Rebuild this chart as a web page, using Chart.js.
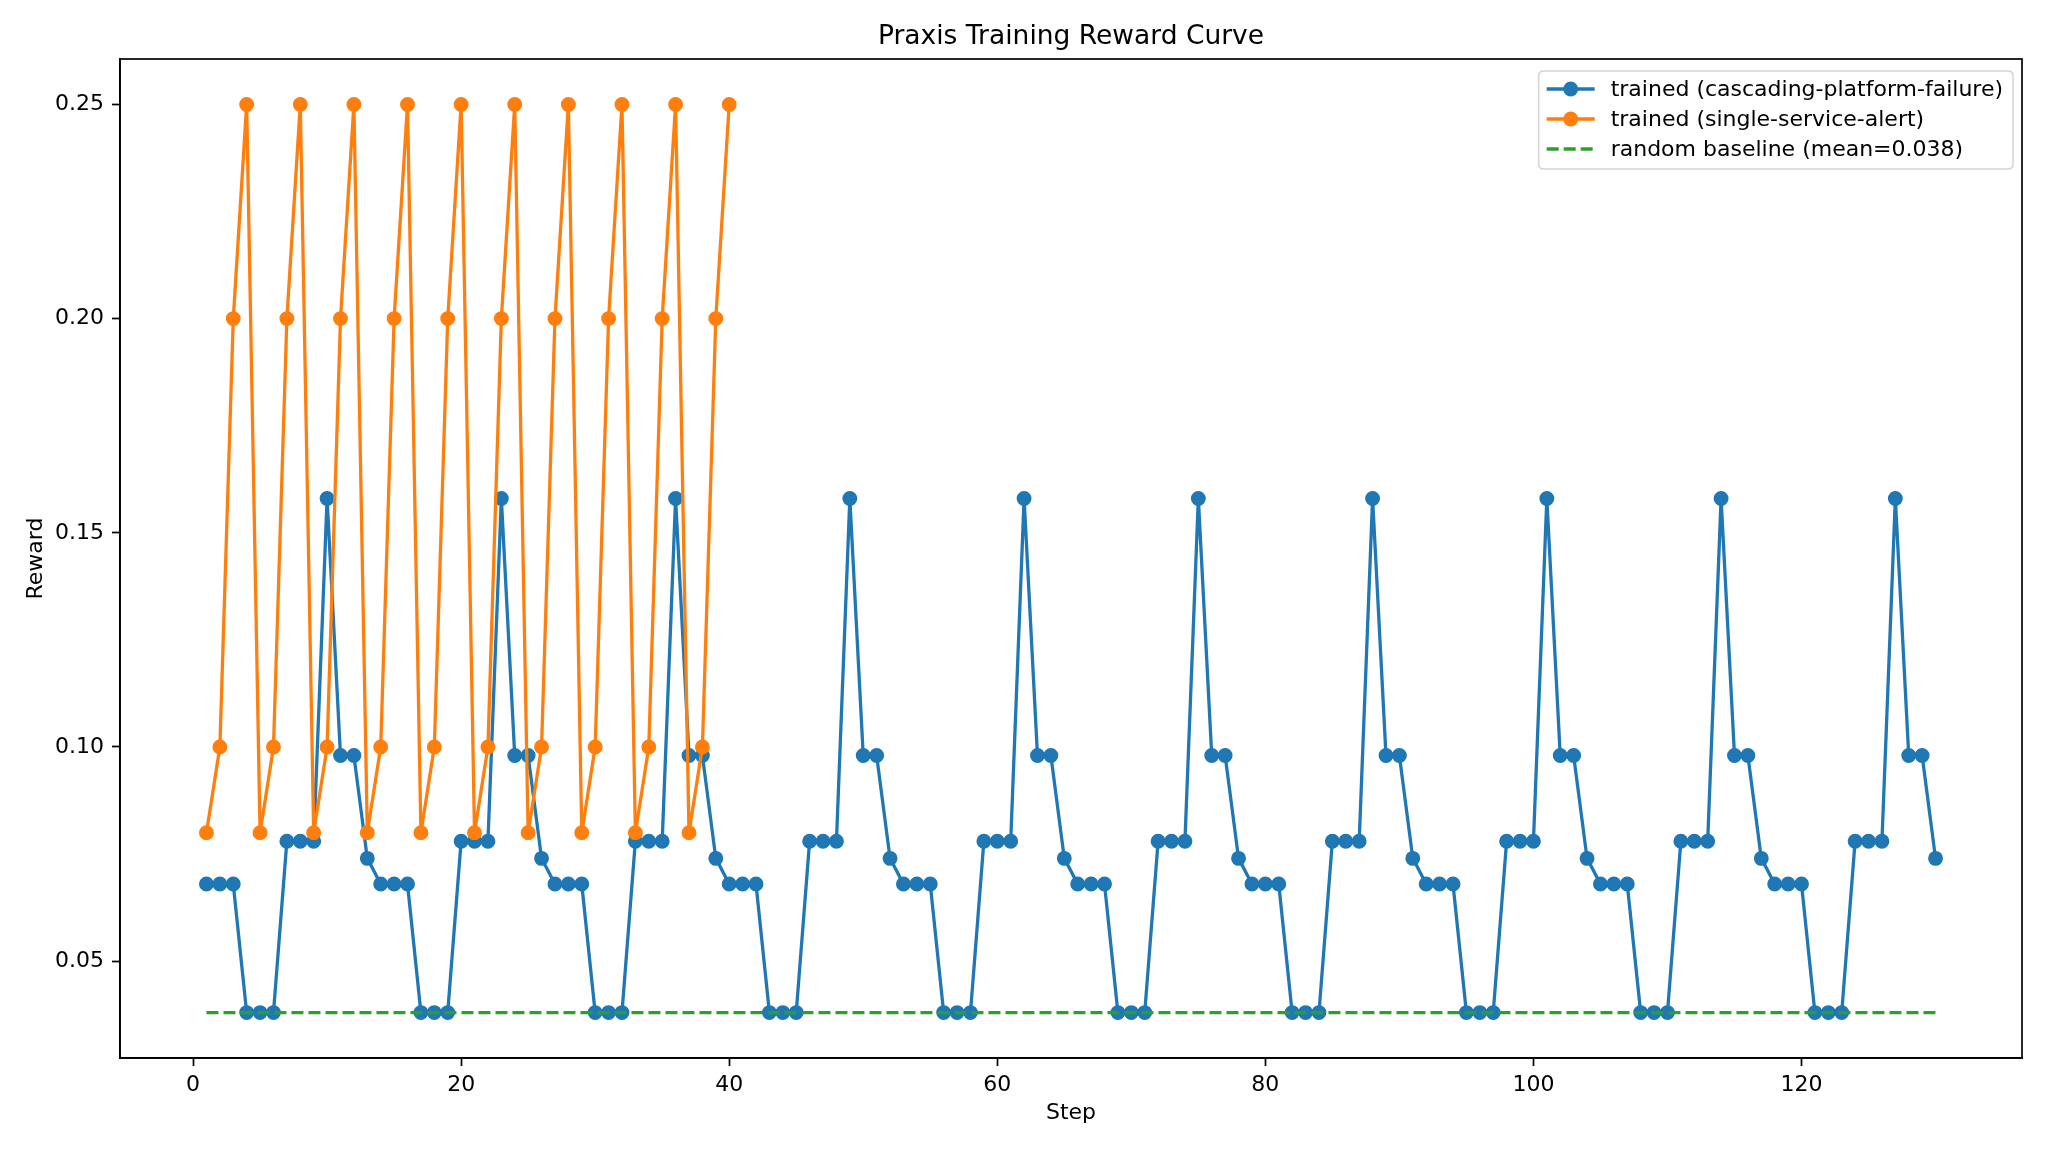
<!DOCTYPE html>
<html>
<head>
<meta charset="utf-8">
<script src="https://cdn.jsdelivr.net/npm/chart.js@4.4.1/dist/chart.umd.min.js"></script>
<style>
  html, body { margin: 0; padding: 0; background: #fff; }
  canvas { display: block; }
</style>
</head>
<body>
<canvas id="c" width="2048" height="1152"></canvas>
<script>
// ---- data ----
const steps = [
  1,2,3,4,5,6,7,8,9,10,11,12,13,14,15,16,17,18,19,20,
  21,22,23,24,25,26,27,28,29,30,31,32,33,34,35,36,37,38,39,40,
  41,42,43,44,45,46,47,48,49,50,51,52,53,54,55,56,57,58,59,60,
  61,62,63,64,65,66,67,68,69,70,71,72,73,74,75,76,77,78,79,80,
  81,82,83,84,85,86,87,88,89,90,91,92,93,94,95,96,97,98,99,100,
  101,102,103,104,105,106,107,108,109,110,111,112,113,114,115,116,117,118,119,120,
  121,122,123,124,125,126,127,128,129,130
];
const cascadingRewards = [
  0.068,0.068,0.068,0.038,0.038,0.038,0.078,0.078,0.078,0.158,0.098,0.098,0.074,
  0.068,0.068,0.068,0.038,0.038,0.038,0.078,0.078,0.078,0.158,0.098,0.098,0.074,
  0.068,0.068,0.068,0.038,0.038,0.038,0.078,0.078,0.078,0.158,0.098,0.098,0.074,
  0.068,0.068,0.068,0.038,0.038,0.038,0.078,0.078,0.078,0.158,0.098,0.098,0.074,
  0.068,0.068,0.068,0.038,0.038,0.038,0.078,0.078,0.078,0.158,0.098,0.098,0.074,
  0.068,0.068,0.068,0.038,0.038,0.038,0.078,0.078,0.078,0.158,0.098,0.098,0.074,
  0.068,0.068,0.068,0.038,0.038,0.038,0.078,0.078,0.078,0.158,0.098,0.098,0.074,
  0.068,0.068,0.068,0.038,0.038,0.038,0.078,0.078,0.078,0.158,0.098,0.098,0.074,
  0.068,0.068,0.068,0.038,0.038,0.038,0.078,0.078,0.078,0.158,0.098,0.098,0.074,
  0.068,0.068,0.068,0.038,0.038,0.038,0.078,0.078,0.078,0.158,0.098,0.098,0.074
];
const singleSteps = [
  1,2,3,4,5,6,7,8,9,10,11,12,13,14,15,16,17,18,19,20,
  21,22,23,24,25,26,27,28,29,30,31,32,33,34,35,36,37,38,39,40
];
const singleRewards = [
  0.08,0.10,0.20,0.25, 0.08,0.10,0.20,0.25, 0.08,0.10,0.20,0.25, 0.08,0.10,0.20,0.25,
  0.08,0.10,0.20,0.25, 0.08,0.10,0.20,0.25, 0.08,0.10,0.20,0.25, 0.08,0.10,0.20,0.25,
  0.08,0.10,0.20,0.25, 0.08,0.10,0.20,0.25
];
const baselineSteps = [1, 130];
const baselineRewards = [0.038, 0.038];
const xTicks = [0, 20, 40, 60, 80, 100, 120];
const yTicks = [0.05, 0.10, 0.15, 0.20, 0.25];
const labels = [
  'trained (cascading-platform-failure)',
  'trained (single-service-alert)',
  'random baseline (mean=0.038)'
];

// ---- helpers ----
const pts = (xs, ys) => xs.map((x, i) => ({ x: x, y: ys[i] }));
const FONT = '"DejaVu Sans", "Liberation Sans", sans-serif';
const BLUE = '#1f77b4', ORANGE = '#ff7f0e', GREEN = '#2ca02c';

const frameLegend = {
  id: 'frameLegend',
  afterDraw(chart) {
    const { ctx, chartArea: a } = chart;
    ctx.save();
    ctx.strokeStyle = '#000';
    ctx.lineWidth = 1.7;
    ctx.strokeRect(a.left, a.top, a.right - a.left, a.bottom - a.top);

    ctx.font = '22px ' + FONT;
    const ds = chart.data.datasets;
    const order = [0, 1, 2];
    let tw = 0;
    order.forEach(i => { tw = Math.max(tw, ctx.measureText(ds[i].label).width); });
    const w = 72 + tw + 10, h = 98;
    const x0 = a.right - 9 - w, y0 = a.top + 12;
    const r = 5;
    ctx.beginPath();
    ctx.moveTo(x0 + r, y0);
    ctx.lineTo(x0 + w - r, y0); ctx.quadraticCurveTo(x0 + w, y0, x0 + w, y0 + r);
    ctx.lineTo(x0 + w, y0 + h - r); ctx.quadraticCurveTo(x0 + w, y0 + h, x0 + w - r, y0 + h);
    ctx.lineTo(x0 + r, y0 + h); ctx.quadraticCurveTo(x0, y0 + h, x0, y0 + h - r);
    ctx.lineTo(x0, y0 + r); ctx.quadraticCurveTo(x0, y0, x0 + r, y0);
    ctx.closePath();
    ctx.fillStyle = 'rgba(255,255,255,0.8)';
    ctx.fill();
    ctx.strokeStyle = '#d4d4d4';
    ctx.lineWidth = 1.5;
    ctx.stroke();

    order.forEach((i, k) => {
      const d = ds[i];
      const cy = y0 + 18 + k * 30;
      ctx.strokeStyle = d.borderColor;
      ctx.lineWidth = d.borderWidth;
      ctx.setLineDash(d.borderDash || []);
      ctx.beginPath();
      ctx.moveTo(x0 + 8, cy); ctx.lineTo(x0 + 56, cy);
      ctx.stroke();
      ctx.setLineDash([]);
      if (d.pointRadius > 0) {
        ctx.fillStyle = d.borderColor;
        ctx.beginPath();
        ctx.arc(x0 + 32, cy, d.pointRadius + d.pointBorderWidth / 2, 0, Math.PI * 2);
        ctx.fill();
      }
      ctx.fillStyle = '#000';
      ctx.textBaseline = 'middle';
      ctx.textAlign = 'left';
      ctx.fillText(d.label, x0 + 72, cy + 1);
    });
    ctx.restore();
  }
};

new Chart(document.getElementById('c'), {
  type: 'line',
  data: {
    datasets: [
      {
        label: labels[0], data: pts(steps, cascadingRewards),
        borderColor: BLUE, backgroundColor: BLUE, borderWidth: 3.3,
        pointRadius: 6.7, pointBorderWidth: 1.5, pointHoverRadius: 6.7,
        pointBackgroundColor: BLUE, pointBorderColor: BLUE, tension: 0, order: 3
      },
      {
        label: labels[1], data: pts(singleSteps, singleRewards),
        borderColor: ORANGE, backgroundColor: ORANGE, borderWidth: 3.3,
        pointRadius: 6.7, pointBorderWidth: 1.5, pointHoverRadius: 6.7,
        pointBackgroundColor: ORANGE, pointBorderColor: ORANGE, tension: 0, order: 2
      },
      {
        label: labels[2], data: pts(baselineSteps, baselineRewards),
        borderColor: GREEN, backgroundColor: GREEN, borderWidth: 3.3,
        borderDash: [12, 5], pointRadius: 0, pointBorderWidth: 0, pointHoverRadius: 0,
        tension: 0, order: 1
      }
    ]
  },
  options: {
    responsive: false,
    animation: false,
    devicePixelRatio: 1,
    layout: { padding: { left: 0, right: 26, top: 0, bottom: 0 } },
    plugins: {
      legend: { display: false },
      tooltip: { enabled: false },
      title: {
        display: true, fullSize: false, text: 'Praxis Training Reward Curve', color: '#000',
        font: { family: FONT, size: 26.5, weight: 'normal' },
        padding: { top: 21, bottom: 6.2 }
      }
    },
    scales: {
      x: {
        type: 'linear', position: 'bottom', min: -5.45, max: 136.45,
        afterBuildTicks: s => { s.ticks = xTicks.map(v => ({ value: v })); },
        afterFit: s => { s.height = 94; },
        ticks: { color: '#000', font: { family: FONT, size: 22 }, padding: 6, maxRotation: 0,
                 callback: v => String(v) },
        grid: { display: true, drawOnChartArea: false, drawTicks: true, tickLength: 8,
                tickWidth: 1.7, tickColor: '#000' },
        border: { display: true, color: '#000', width: 1.7 },
        title: { display: true, text: 'Step', color: '#000',
                 font: { family: FONT, size: 22 }, padding: { top: 0, bottom: 26 } }
      },
      y: {
        type: 'linear', position: 'left', min: 0.0274, max: 0.2606,
        afterBuildTicks: s => { s.ticks = yTicks.map(v => ({ value: v })); },
        afterFit: s => { s.width = 120; },
        ticks: { color: '#000', font: { family: FONT, size: 22 }, padding: 8,
                 callback: v => Number(v).toFixed(2) },
        grid: { display: true, drawOnChartArea: false, drawTicks: true, tickLength: 8,
                tickWidth: 1.7, tickColor: '#000' },
        border: { display: true, color: '#000', width: 1.7 },
        title: { display: true, text: 'Reward', color: '#000',
                 font: { family: FONT, size: 22 }, padding: { top: 23.5, bottom: 0 } }
      }
    }
  },
  plugins: [frameLegend]
});
</script>
</body>
</html>
